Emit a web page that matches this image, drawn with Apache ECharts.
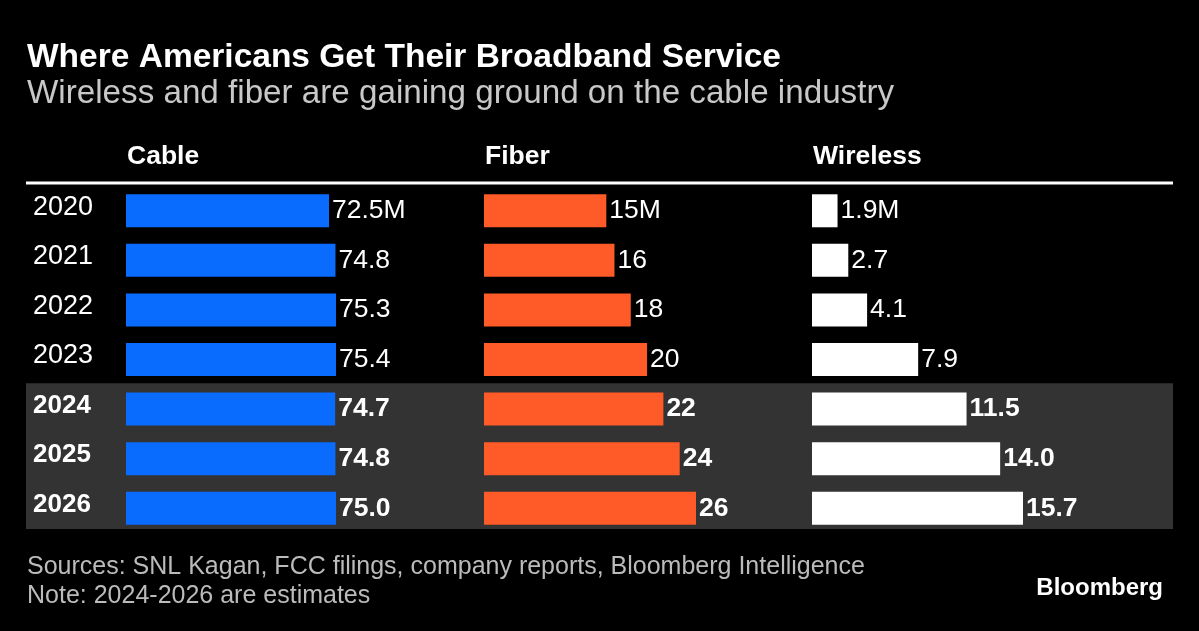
<!DOCTYPE html>
<html>
<head>
<meta charset="utf-8">
<script src="https://cdn.jsdelivr.net/npm/echarts@6/dist/echarts.min.js"></script>
<style>
html,body{margin:0;padding:0;background:#000;}
#chart{width:1199px;height:631px;}
</style>
</head>
<body>
<div id="chart"></div>
<script>
var years = ['2020','2021','2022','2023','2024','2025','2026'];
var cable = [72.5, 74.8, 75.3, 75.4, 74.7, 74.8, 75.0];
var fiber = [15, 16, 18, 20, 22, 24, 26];
var wireless = [1.9, 2.7, 4.1, 7.9, 11.5, 14.0, 15.7];
var cableLabels = ['72.5M','74.8','75.3','75.4','74.7','74.8','75.0'];
var fiberLabels = ['15M','16','18','20','22','24','26'];
var wirelessLabels = ['1.9M','2.7','4.1','7.9','11.5','14.0','15.7'];
var estimateYears = ['2024','2025','2026'];
var headers = ['Cable','Fiber','Wireless'];

var FONT = '"Liberation Sans", Arial, Helvetica, sans-serif';
var isEst = function(i){ return estimateYears.indexOf(years[i]) >= 0; };

function buildData(vals, labels){
  return vals.map(function(v,i){
    return {
      value: v,
      label: {
        formatter: labels[i],
        fontWeight: isEst(i) ? 'bold' : 'normal'
      }
    };
  });
}

var GT = 186, GH = 347;
var panels = [
  {left:126, width:210, max:75, color:'#0A6CFF', vals:cable, labels:cableLabels},
  {left:484, width:212, max:26, color:'#FF5B29', vals:fiber, labels:fiberLabels},
  {left:812, width:211, max:15.7, color:'#FFFFFF', vals:wireless, labels:wirelessLabels}
];

// hidden band grid: overlapping bars form one continuous shaded block for estimate years
var grids = [{left:26, width:1147, top:194, height:335}];
var xAxes = [{gridIndex:0, type:'value', min:0, max:1, show:false}];
var yAxes = [{gridIndex:0, type:'category', data:years, inverse:true, show:false}];
var series = [{
  type:'bar', xAxisIndex:0, yAxisIndex:0, barWidth:52, silent:true,
  data: years.map(function(y,i){ return isEst(i) ? 1 : null; }),
  itemStyle:{color:'#333333'}, z:0
}];

panels.forEach(function(p, k){
  var gi = k + 1;
  grids.push({left:p.left, width:p.width, top:GT, height:GH});
  xAxes.push({gridIndex:gi, type:'value', min:0, max:p.max, show:false});
  yAxes.push({
    gridIndex:gi, type:'category', data:years, inverse:true,
    axisLine:{show:false}, axisTick:{show:false}, splitLine:{show:false},
    axisLabel: k === 0 ? {
      show:true, margin:93, align:'left', color:'#fff', fontFamily:FONT, fontSize:27,
      padding:[0,0,7,0],
      formatter:function(v){ return estimateYears.indexOf(v) >= 0 ? '{b|'+v+'}' : '{n|'+v+'}'; },
      rich:{
        b:{fontWeight:'bold', fontSize:26, color:'#fff', fontFamily:FONT},
        n:{fontWeight:'normal', fontSize:27, color:'#fff', fontFamily:FONT}
      }
    } : {show:false}
  });
  series.push({
    type:'bar', xAxisIndex:gi, yAxisIndex:gi, barWidth:33, silent:true,
    itemStyle:{color:p.color},
    label:{show:true, position:'right', distance:3, color:'#fff', fontFamily:FONT, fontSize:26.5},
    data: buildData(p.vals, p.labels), z:2
  });
});

var graphic = [
  {type:'text', left:27, top:40.5, style:{text:'Where Americans Get Their Broadband Service', fill:'#fff', font:'bold 33.5px '+FONT}},
  {type:'text', left:27, top:77, style:{text:'Wireless and fiber are gaining ground on the cable industry', fill:'#c8c8c8', font:'33.2px '+FONT}},
  {type:'line', shape:{x1:26, y1:183, x2:1173, y2:183}, style:{stroke:'#fff', lineWidth:3}},
  {type:'text', left:27, top:554.5, style:{text:'Sources: SNL Kagan, FCC filings, company reports, Bloomberg Intelligence', fill:'#bbbbbb', font:'25px '+FONT}},
  {type:'text', left:27, top:583.5, style:{text:'Note: 2024-2026 are estimates', fill:'#bbbbbb', font:'25px '+FONT}},
  {type:'text', right:36, top:576.5, style:{text:'Bloomberg', fill:'#fff', font:'bold 24px '+FONT}}
];
panels.forEach(function(p,k){
  graphic.push({type:'text', left:p.left+1, top:143, style:{text:headers[k], fill:'#fff', font:'bold 26.5px '+FONT}});
});

var chart = echarts.init(document.getElementById('chart'), null, {renderer:'canvas'});
chart.setOption({
  backgroundColor:'#000',
  animation:false,
  grid:grids, xAxis:xAxes, yAxis:yAxes, series:series, graphic:graphic
});
</script>
</body>
</html>
